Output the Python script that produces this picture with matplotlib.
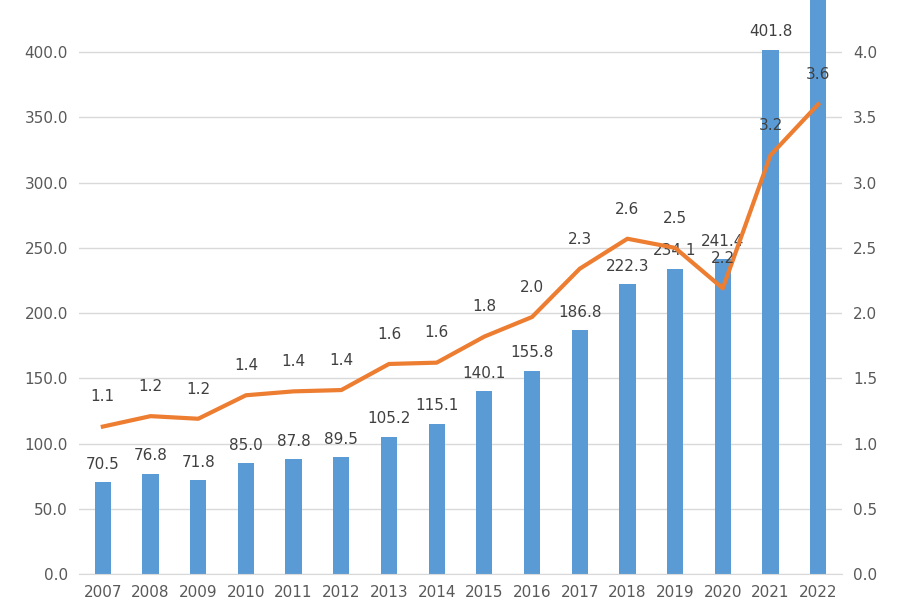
import numpy as np
import matplotlib.pyplot as plt

years = [str(y) for y in range(2007, 2023)]
bar_vals = [70.5, 76.8, 71.8, 85.0, 87.8, 89.5, 105.2, 115.1, 140.1, 155.8,
            186.8, 222.3, 234.1, 241.4, 401.8, 480.0]
line_vals = [1.13, 1.21, 1.19, 1.37, 1.40, 1.41, 1.61, 1.62, 1.82, 1.97,
             2.34, 2.57, 2.50, 2.19, 3.21, 3.60]

fig = plt.figure(figsize=(9, 6), dpi=100)
ax = fig.add_axes([79 / 900, 26 / 600, 763 / 900, 574 / 600])
ax2 = ax.twinx()

x = np.arange(len(years))
ax.bar(x, bar_vals, width=0.34, color='#5B9BD5', zorder=2)
ax.set_xlim(-0.5, len(years) - 0.5)
ax.set_ylim(0, 440)
ax.set_yticks(np.arange(0, 401, 50))
ax.set_yticklabels(['%.1f' % v for v in np.arange(0, 401, 50)])
ax.set_xticks(x)
ax.set_xticklabels(years)
ax.grid(axis='y', color='#D9D9D9', linewidth=1, zorder=0)
ax.set_axisbelow(True)

ax2.plot(x, line_vals, color='#ED7D31', linewidth=3, zorder=3)
ax2.set_ylim(0, 4.4)
ax2.set_yticks(np.arange(0, 4.01, 0.5))
ax2.set_yticklabels(['%.1f' % v for v in np.arange(0, 4.01, 0.5)])

for a in (ax, ax2):
    for s in a.spines.values():
        s.set_visible(False)
    a.tick_params(length=0, labelsize=11, colors='#595959', pad=8)
ax.spines['bottom'].set_visible(True)
ax.spines['bottom'].set_color('#D9D9D9')

for i, v in enumerate(bar_vals):
    if v < 440:
        ax.text(i, v + 8, '%.1f' % v, ha='center', va='bottom', fontsize=11, color='#404040')
for i, v in enumerate(line_vals):
    ax2.text(i, v + 0.17, '%.1f' % v, ha='center', va='bottom', fontsize=11, color='#404040')

fig.savefig('out.png')
